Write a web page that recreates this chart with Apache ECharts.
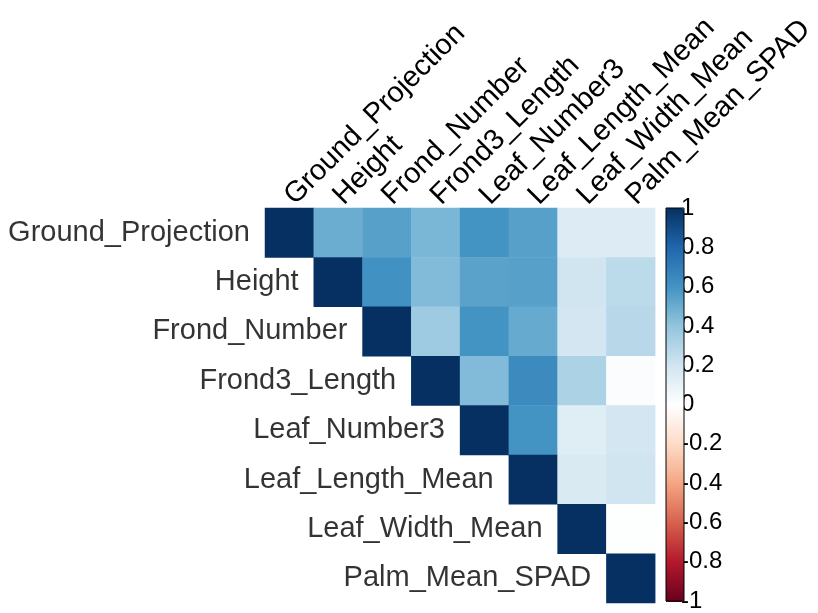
<!DOCTYPE html>
<html>
<head>
<meta charset="utf-8">
<script src="https://cdn.jsdelivr.net/npm/echarts@6/dist/echarts.min.js"></script>
<style>html,body{margin:0;padding:0;background:#fff;}#c{width:818px;height:613px;}</style>
</head>
<body>
<div id="c"></div>
<script>
const variables = ['Ground_Projection','Height','Frond_Number','Frond3_Length','Leaf_Number3','Leaf_Length_Mean','Leaf_Width_Mean','Palm_Mean_SPAD'];
// upper triangle rows, starting at the diagonal
const rowGroundProjection = [1, 0.50, 0.55, 0.46, 0.60, 0.55, 0.15, 0.15];
const rowHeight           = [1, 0.61, 0.44, 0.54, 0.55, 0.20, 0.27];
const rowFrondNumber      = [1, 0.36, 0.60, 0.51, 0.19, 0.28];
const rowFrond3Length     = [1, 0.44, 0.64, 0.32, 0.02];
const rowLeafNumber3      = [1, 0.60, 0.14, 0.19];
const rowLeafLengthMean   = [1, 0.16, 0.20];
const rowLeafWidthMean    = [1, 0.01];
const rowPalmMeanSPAD     = [1];
const colorStops = ['#67001F','#B2182B','#D6604D','#F4A582','#FDDBC7','#FFFFFF','#D1E5F0','#92C5DE','#4393C3','#2166AC','#053061'];
const legendTicks = [-1,-0.8,-0.6,-0.4,-0.2,0,0.2,0.4,0.6,0.8,1];

const rows = [rowGroundProjection,rowHeight,rowFrondNumber,rowFrond3Length,rowLeafNumber3,rowLeafLengthMean,rowLeafWidthMean,rowPalmMeanSPAD];
const cells = [];
rows.forEach((r, i) => r.forEach((v, k) => cells.push([i + k, i, v])));
const diag = variables.map((n, i) => [i, i]);

const font = "'Liberation Sans', Arial, sans-serif";
const chart = echarts.init(document.getElementById('c'));
chart.setOption({
  animation: false,
  backgroundColor: '#fff',
  grid: [
    {left: 265, top: 208, width: 395, height: 395},
    {left: 666, top: 208, width: 18, height: 394, show: true, backgroundColor: 'transparent', borderColor: '#000', borderWidth: 1, z: 6}
  ],
  xAxis: [
    {type: 'category', data: variables, position: 'top', gridIndex: 0,
     axisLine: {show: false}, axisTick: {show: false}, splitLine: {show: false},
     axisLabel: {rotate: -45, interval: 0, margin: 8, fontSize: 29, color: '#000', fontFamily: font}},
    {type: 'value', gridIndex: 1, show: false, min: 0, max: 1}
  ],
  yAxis: [
    {type: 'category', data: variables, inverse: true, gridIndex: 0,
     axisLine: {show: false}, axisTick: {show: false}, axisLabel: {show: false}, splitLine: {show: false}},
    {type: 'value', gridIndex: 1, position: 'right', min: -1, max: 1, interval: 0.2,
     axisLine: {show: false}, splitLine: {show: false},
     axisTick: {show: true, length: 4, lineStyle: {color: '#000', width: 1}},
     axisLabel: {margin: -3, align: 'left', fontSize: 24, color: '#000', fontFamily: font,
       formatter: v => String(Math.round(v * 10) / 10)}}
  ],
  visualMap: {
    type: 'continuous', min: -1, max: 1, seriesIndex: 0, calculable: false,
    orient: 'vertical', left: 666, top: 208, itemWidth: 18, itemHeight: 394,
    padding: 0, text: null, showLabel: false, z: 2, hoverLink: false,
    inRange: {color: colorStops}
  },
  series: [
    {type: 'heatmap', xAxisIndex: 0, yAxisIndex: 0, data: cells, silent: true,
     itemStyle: {borderWidth: 0}, emphasis: {disabled: true}},
    {type: 'scatter', xAxisIndex: 0, yAxisIndex: 0, data: diag, symbolSize: 1, silent: true,
     itemStyle: {color: 'transparent'},
     label: {show: true, position: 'left', distance: 39, fontSize: 29, color: '#000', fontFamily: font,
       formatter: p => variables[p.data[1]]}}
  ]
});
</script>
</body>
</html>
